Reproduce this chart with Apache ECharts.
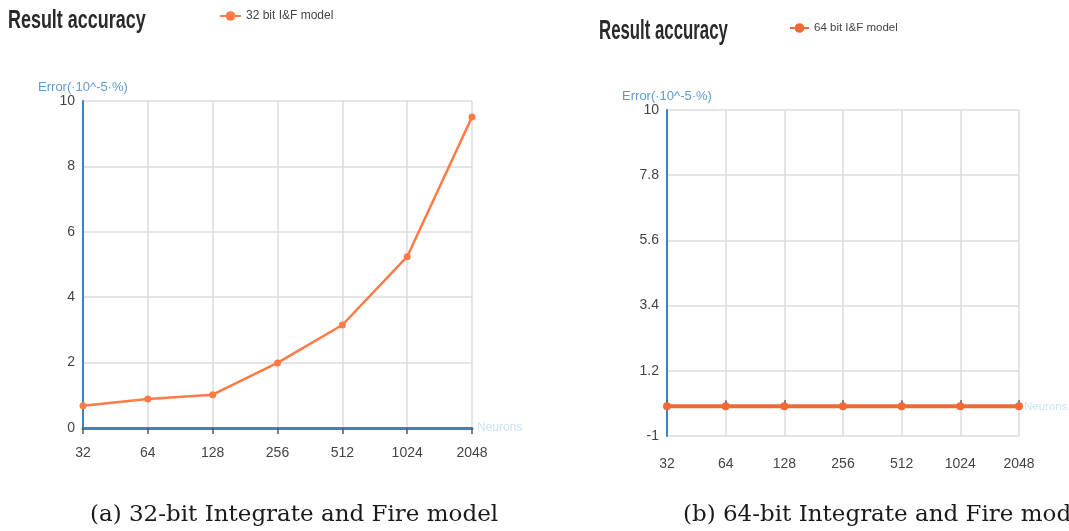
<!DOCTYPE html>
<html>
<head>
<meta charset="utf-8">
<title>Result accuracy</title>
<script src="https://cdn.jsdelivr.net/npm/echarts@6/dist/echarts.min.js"></script>
<style>
  html, body { margin: 0; padding: 0; background: #fff; }
  #chart { width: 1069px; height: 531px; }
</style>
</head>
<body>
<div id="chart"></div>
<script>
// Neuron counts on the x axis (shared by both panels)
const neurons = ['32', '64', '128', '256', '512', '1024', '2048'];

// Error (x10^-5 %) for the 32-bit and 64-bit Integrate and Fire models
const error32 = [0.68, 0.89, 1.02, 1.99, 3.15, 5.24, 9.51];
const error64 = [0, 0, 0, 0, 0, 0, 0];

// y-axis tick values
const yTicks32 = [0, 2, 4, 6, 8, 10];
const yTicks64 = [-1, 1.2, 3.4, 5.6, 7.8, 10];

const seriesNames = ['32 bit I&F model', '64 bit I&F model'];
const panelTitle = 'Result accuracy';
const captions = ['(a) 32-bit Integrate and Fire model', '(b) 64-bit Integrate and Fire model'];

const sans = "'Liberation Sans', Arial, sans-serif";
const serif = "'DejaVu Serif', 'Liberation Serif', serif";
const blue = '#3f82c4';
const gridGray = '#dcdcdc';
const labelGray = '#444';

function yAxisFor(gridIndex, ticks) {
  return {
    type: 'value',
    gridIndex: gridIndex,
    min: ticks[0],
    max: ticks[ticks.length - 1],
    interval: ticks[1] - ticks[0],
    name: 'Error(·10^-5·%)',
    nameLocation: 'end',
    nameGap: gridIndex === 0 ? 5 : 3,
    nameTextStyle: { color: '#5e9bd0', fontFamily: sans, fontSize: 13, align: 'center' },
    axisLine: { show: true, onZero: false, lineStyle: { color: blue, width: 2 } },
    axisTick: { show: false },
    axisLabel: { color: labelGray, fontFamily: sans, fontSize: 14, margin: 8 },
    splitLine: { show: true, lineStyle: { color: gridGray, width: 1.5 } }
  };
}

// Panel heading, drawn condensed
function heading(x, y, sx, size) {
  return {
    type: 'text', x: x, y: y, scaleX: sx, originX: 0, originY: 0,
    style: {
      text: panelTitle, fontFamily: sans, fontSize: size, fontWeight: 'bold',
      fill: '#2a2a2a', verticalAlign: 'top', align: 'left'
    }
  };
}

const chart = echarts.init(document.getElementById('chart'), null, { renderer: 'canvas' });

chart.setOption({
  animation: false,
  color: ['#ff7a45'],
  legend: [
    {
      data: [seriesNames[0]], left: 214, top: 5, itemWidth: 21, itemHeight: 12, itemGap: 5,
      textStyle: { fontFamily: sans, fontSize: 12, color: labelGray }
    },
    {
      data: [seriesNames[1]], left: 784, top: 17, itemWidth: 19, itemHeight: 12, itemGap: 4,
      textStyle: { fontFamily: sans, fontSize: 11.5, color: labelGray }
    }
  ],
  grid: [
    { left: 83, top: 101, width: 389, height: 327, containLabel: false, outerBoundsMode: 'none' },
    { left: 667, top: 110, width: 352, height: 326, containLabel: false, outerBoundsMode: 'none' }
  ],
  xAxis: [
    {
      type: 'category', gridIndex: 0, data: neurons, boundaryGap: false,
      name: 'Neurons', nameLocation: 'end', nameGap: 5,
      nameTextStyle: { color: '#c8e4f7', fontFamily: sans, fontSize: 12 },
      axisLine: { show: true, onZero: true, lineStyle: { color: blue, width: 3 } },
      axisTick: { show: true, length: 6, alignWithLabel: true, lineStyle: { color: '#555', width: 1.5 } },
      axisLabel: { color: labelGray, fontFamily: sans, fontSize: 14, margin: 18 },
      splitLine: { show: true, lineStyle: { color: gridGray, width: 1.5 } }
    },
    {
      // zero line of the 64-bit panel, carrying the axis name and ticks
      type: 'category', gridIndex: 1, data: neurons, boundaryGap: false,
      name: 'Neurons', nameLocation: 'end', nameGap: 5,
      nameTextStyle: { color: '#c8e4f7', fontFamily: sans, fontSize: 11.5 },
      axisLine: { show: true, onZero: true, lineStyle: { color: blue, width: 2 } },
      axisTick: { show: true, length: 6, inside: true, lineStyle: { color: '#555', width: 1.5 } },
      axisLabel: { show: false },
      splitLine: { show: false }
    },
    {
      // category labels along the bottom of the 64-bit panel
      type: 'category', gridIndex: 1, data: neurons, boundaryGap: false,
      position: 'bottom',
      axisLine: { show: false, onZero: false },
      axisTick: { show: false },
      axisLabel: { color: labelGray, fontFamily: sans, fontSize: 14, margin: 21 },
      splitLine: { show: true, lineStyle: { color: gridGray, width: 1.5 } }
    }
  ],
  yAxis: [yAxisFor(0, yTicks32), yAxisFor(1, yTicks64)],
  series: [
    {
      name: seriesNames[0], type: 'line', xAxisIndex: 0, yAxisIndex: 0,
      data: error32, symbol: 'circle', symbolSize: 7, showSymbol: true,
      lineStyle: { width: 2.5, color: '#ff7a45' },
      itemStyle: { color: '#ff7a45' }
    },
    {
      name: seriesNames[1], type: 'line', xAxisIndex: 1, yAxisIndex: 1,
      data: error64, symbol: 'circle', symbolSize: 8, showSymbol: true,
      lineStyle: { width: 4, color: '#f06a38' },
      itemStyle: { color: '#f06a38' }
    }
  ],
  graphic: [
    heading(8, 8, 0.69, 26),
    heading(599, 17, 0.6, 28),
    {
      type: 'text', x: 90, y: 504,
      style: { text: captions[0], fontFamily: serif, fontSize: 23, fill: '#1a1a1a', verticalAlign: 'top' }
    },
    {
      type: 'text', x: 683, y: 504,
      style: { text: captions[1], fontFamily: serif, fontSize: 23, fill: '#1a1a1a', verticalAlign: 'top' }
    }
  ]
});
</script>
</body>
</html>
